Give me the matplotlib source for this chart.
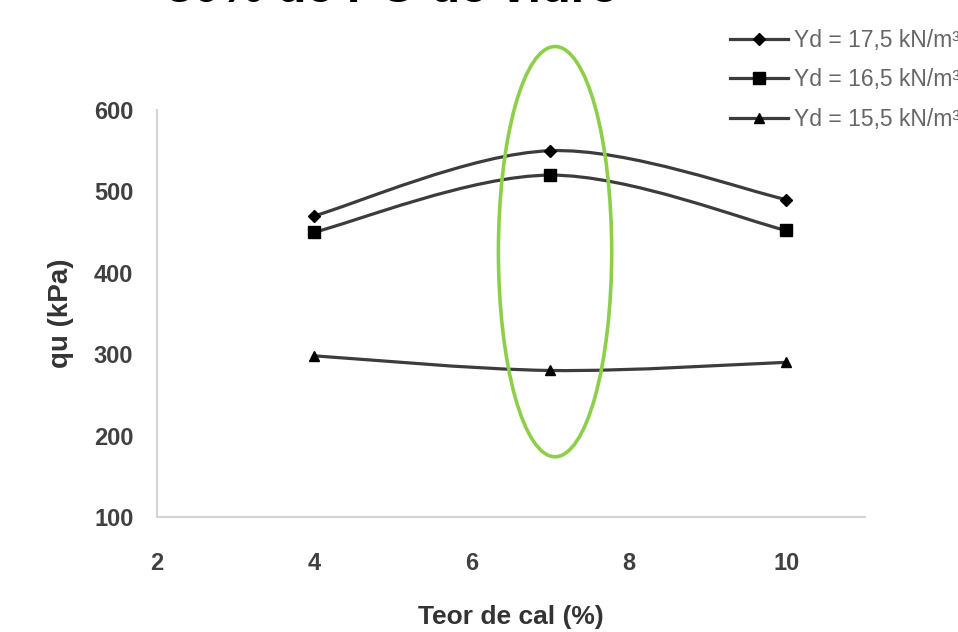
import numpy as np
import matplotlib
matplotlib.use('Agg')
from matplotlib import pyplot as plt
from matplotlib.path import Path
from matplotlib.patches import PathPatch, Ellipse

plt.rcParams['font.family'] = ['Liberation Sans', 'DejaVu Sans']

# data
teor_cal = [4, 7, 10]
qu_175 = [470, 550, 490]
qu_165 = [450, 520, 452]
qu_155 = [298, 280, 290]
labels = ['Yd = 17,5 kN/m³', 'Yd = 16,5 kN/m³', 'Yd = 15,5 kN/m³']
markers = ['D', 's', '^']
marker_sizes = [6.5, 8, 6.5]


def smooth_path(x, y, tension=1 / 6):
    # Excel style smoothed line: cubic bezier through the points
    x = np.asarray(x, float)
    y = np.asarray(y, float)
    verts = [(x[0], y[0])]
    codes = [Path.MOVETO]
    n = len(x)
    for i in range(n - 1):
        i0 = max(i - 1, 0)
        i3 = min(i + 2, n - 1)
        c1 = (x[i] + (x[i + 1] - x[i0]) * tension, y[i] + (y[i + 1] - y[i0]) * tension)
        c2 = (x[i + 1] - (x[i3] - x[i]) * tension, y[i + 1] - (y[i3] - y[i]) * tension)
        verts += [c1, c2, (x[i + 1], y[i + 1])]
        codes += [Path.CURVE4] * 3
    return Path(verts, codes)


fig = plt.figure(figsize=(9.58, 6.32), dpi=100)
ax = fig.add_axes([157 / 958, 1 - 517 / 632, (865 - 157) / 958, (517 - 110) / 632])

line_color = '#3c3c3c'
handles = []
for vals, lab, mk, ms in zip([qu_175, qu_165, qu_155], labels, markers, marker_sizes):
    ax.add_patch(PathPatch(smooth_path(teor_cal, vals), facecolor='none',
                           edgecolor=line_color, lw=2.3))
    ax.plot(teor_cal, vals, linestyle='none', marker=mk, ms=ms, color='black')
    h, = ax.plot([], [], color=line_color, lw=2.3, marker=mk, ms=ms,
                 mfc='black', mec='black', label=lab)
    handles.append(h)

# highlight ellipse around 7 %
ax.add_patch(Ellipse((7.06, 426), 1.44, 504, facecolor='none',
                     edgecolor='#8dcf4a', lw=2.6, clip_on=False, zorder=5))

ax.set_xlim(2, 11)
ax.set_ylim(100, 600)
ax.set_xticks([2, 4, 6, 8, 10])
ax.set_yticks([100, 200, 300, 400, 500, 600])
for s in ['top', 'right']:
    ax.spines[s].set_visible(False)
for s in ['left', 'bottom']:
    ax.spines[s].set_color('#d4d4d4')
    ax.spines[s].set_linewidth(1.5)
ax.tick_params(length=0, labelsize=17, labelcolor='#404040')
ax.tick_params(axis='y', pad=17)
ax.tick_params(axis='x', pad=25)
for t in ax.get_xticklabels() + ax.get_yticklabels():
    t.set_fontweight('bold')

ax.set_xlabel('Teor de cal (%)', fontsize=19, fontweight='bold', color='#333333', labelpad=22)
ax.set_ylabel('qu (kPa)', fontsize=20, fontweight='bold', color='#333333', labelpad=14)

fig.legend(handles=handles, loc='upper left', bbox_to_anchor=(709 / 958, 1 - 8 / 632),
           frameon=False, fontsize=16.5, handlelength=2.53, handletextpad=0.3,
           labelspacing=0.72, labelcolor='#666666')

# title, cut off at the top edge
fig.text(393 / 958, 1 - 2 / 632, '30% de PÓ de vidro', fontsize=35, fontweight='bold',
         ha='center', va='baseline', color='black')

fig.savefig('out.png', dpi=100)
